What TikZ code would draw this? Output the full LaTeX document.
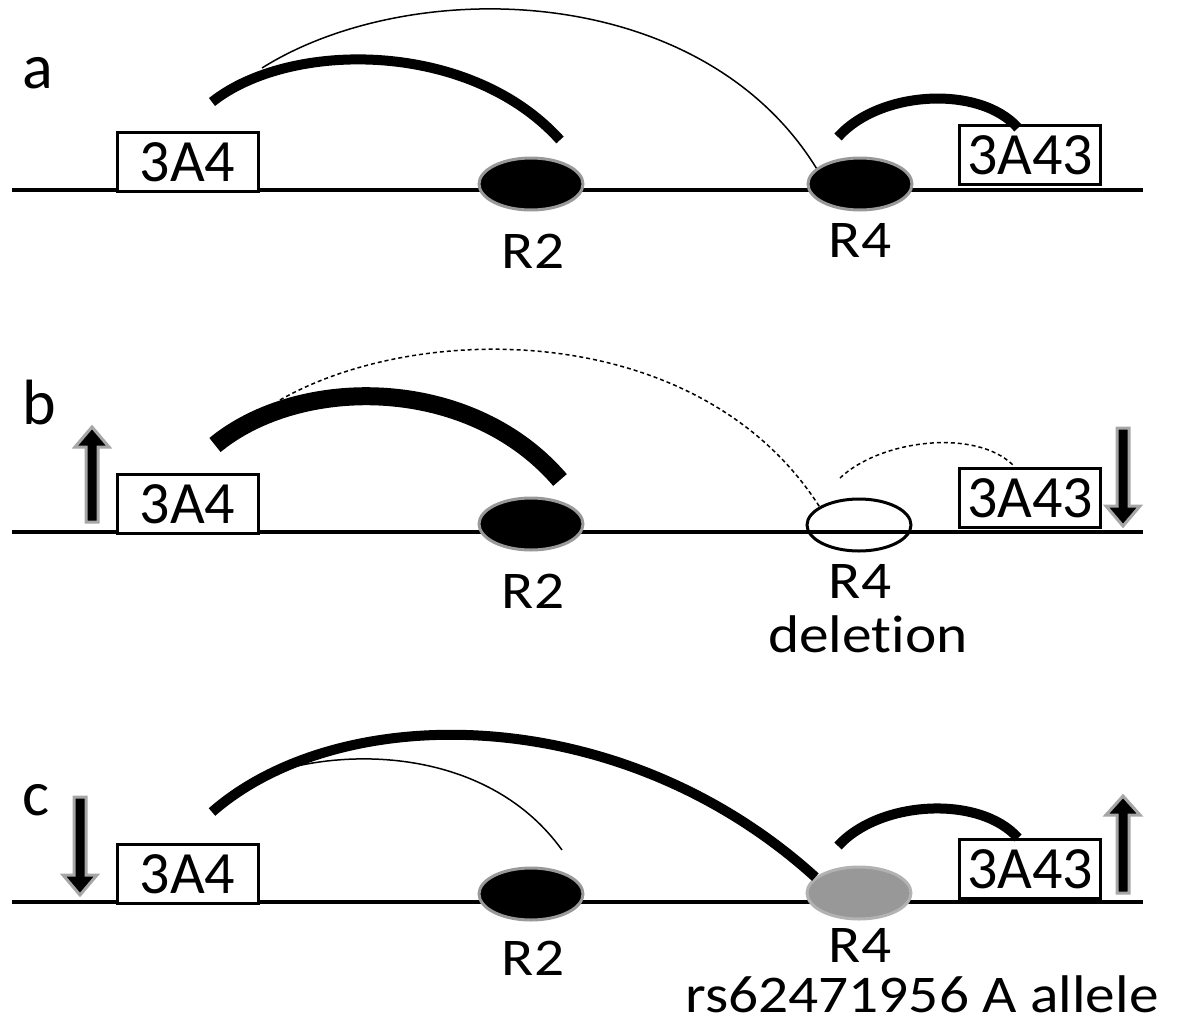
\documentclass[tikz,border=0pt]{standalone}
\usepackage{fontspec}
\setmainfont{Carlito}[Ligatures=NoCommon]
\newfontfamily\widefont{Carlito}[FakeStretch=1.12, Ligatures=NoCommon]
\usetikzlibrary{shapes.geometric}
\tikzset{
  lbl/.style={font=\widefont\fontsize{53}{60}\selectfont, inner sep=0pt},
  panel/.style={font=\fontsize{64}{70}\selectfont, inner sep=0pt},
  dna/.style={line width=4pt, black},
  genebox/.style={draw=black, line width=3pt, fill=white, minimum width=141pt, minimum height=59pt, inner sep=0pt, font=\fontsize{60}{66}\selectfont},
  region/.style={ellipse, line width=3pt, minimum width=104pt, minimum height=52pt, inner sep=0pt},
  blackreg/.style={region, draw=gray!80, fill=black},
  openreg/.style={region, draw=black, fill=none},
  grayreg/.style={region, draw=gray!60, fill=gray!85!black!70},
  thickarc/.style={line width=10pt, black},
  thickerarc/.style={line width=18pt, black},
  thinarc/.style={line width=1.5pt, black},
  dasharc/.style={line width=1.5pt, black, dash pattern=on 4pt off 3pt},
  fatarrow/.style={fill=black, draw=gray!70, line width=3pt, line join=miter}
}
\newcommand{\myarrow}[5]{% x, tail y, tip y, head base y, name
  \path[fatarrow] (#1-6,#2) -- (#1-6,#4) -- (#1-17,#4) -- coordinate (#5) (#1,#3) -- (#1+17,#4) -- (#1+6,#4) -- (#1+6,#2) -- cycle;
}
\begin{document}
\begin{tikzpicture}[x=1pt,y=-1pt]
\useasboundingbox (0,0) rectangle (1178,1028);
% ---------------- panel a ----------------
\node[panel, anchor=base west] (la) at (22,88) {a};
\coordinate (a0) at (12,190); \coordinate (a1) at (1143,190);
\draw[dna] (a0) -- (a1);
\node[blackreg] (aR2) at (531,184) {};
\node[blackreg] (aR4) at (860,184) {};
\node[genebox] (a3A4) at (187.5,162) {3A4};
\node[genebox] (a3A43) at (1030,155) {3A43};
\node[lbl, anchor=base] (aR2l) at (533,268) {R2};
\node[lbl, anchor=base] (aR4l) at (860,257) {R4};
\coordinate (ap1) at (212,102); \coordinate (ap2) at (560,140);
\coordinate (ap3) at (262,68); \coordinate (ap4) at (838,137); \coordinate (ap5) at (1018,128);
\draw[thickarc] (ap1) .. controls (290,40) and (470,40) .. (ap2);
\draw[thinarc] (ap3) .. controls (410,-25) and (700,-20) .. (aR4.160);
\draw[thickarc] (ap4) .. controls (880,90) and (980,85) .. (ap5);
% ---------------- panel b ----------------
\node[panel, anchor=base west] (lb) at (22,424) {b};
\coordinate (b0) at (12,532); \coordinate (b1) at (1143,532);
\draw[dna] (b0) -- (b1);
\node[blackreg] (bR2) at (531,524) {};
\node[openreg] (bR4) at (859,525) {};
\node[genebox] (b3A4) at (187.5,504) {3A4};
\node[genebox] (b3A43) at (1030,498) {3A43};
\node[lbl, anchor=base] (bR2l) at (533,608) {R2};
\node[lbl, anchor=base] (bR4l) at (860,598) {R4};
\node[lbl, anchor=base] (bdel) at (868,652) {deletion};
\coordinate (bp1) at (215,445); \coordinate (bp2) at (560,480);
\coordinate (bp3) at (280,400); \coordinate (bp4) at (840,478); \coordinate (bp5) at (1013,465);
\draw[thickerarc] (bp1) .. controls (300,375) and (470,375) .. (bp2);
\draw[dasharc] (bp3) .. controls (420,320) and (700,320) .. (bR4.155);
\draw[dasharc] (bp4) .. controls (880,440) and (975,428) .. (bp5);
\myarrow{92}{522}{427}{447}{bup}
\myarrow{1123}{428}{526}{506}{bdown}
% ---------------- panel c ----------------
\node[panel, anchor=base west] (lc) at (22,815) {c};
\coordinate (c0) at (12,902); \coordinate (c1) at (1143,902);
\draw[dna] (c0) -- (c1);
\node[blackreg] (cR2) at (531,894) {};
\node[grayreg] (cR4) at (859,893) {};
\node[genebox] (c3A4) at (187.5,874) {3A4};
\node[genebox] (c3A43) at (1030,869) {3A43};
\node[lbl, anchor=base] (cR2l) at (533,975) {R2};
\node[lbl, anchor=base] (cR4l) at (860,962) {R4};
\node[lbl, anchor=base] (csnp) at (922,1012) {rs62471956 A allele};
\coordinate (cp1) at (212,812); \coordinate (cp3) at (265,775);
\coordinate (cp2) at (562,850); \coordinate (cp4) at (838,846); \coordinate (cp5) at (1018,838);
\draw[thickarc] (cp1) .. controls (340,700) and (620,700) .. (cR4.160);
\draw[thinarc] (cp3) .. controls (350,745) and (490,750) .. (cp2);
\draw[thickarc] (cp4) .. controls (880,800) and (980,795) .. (cp5);
\myarrow{80}{797}{895}{875}{cdown}
\myarrow{1123}{893}{796}{815}{cup}
\end{tikzpicture}
\end{document}
